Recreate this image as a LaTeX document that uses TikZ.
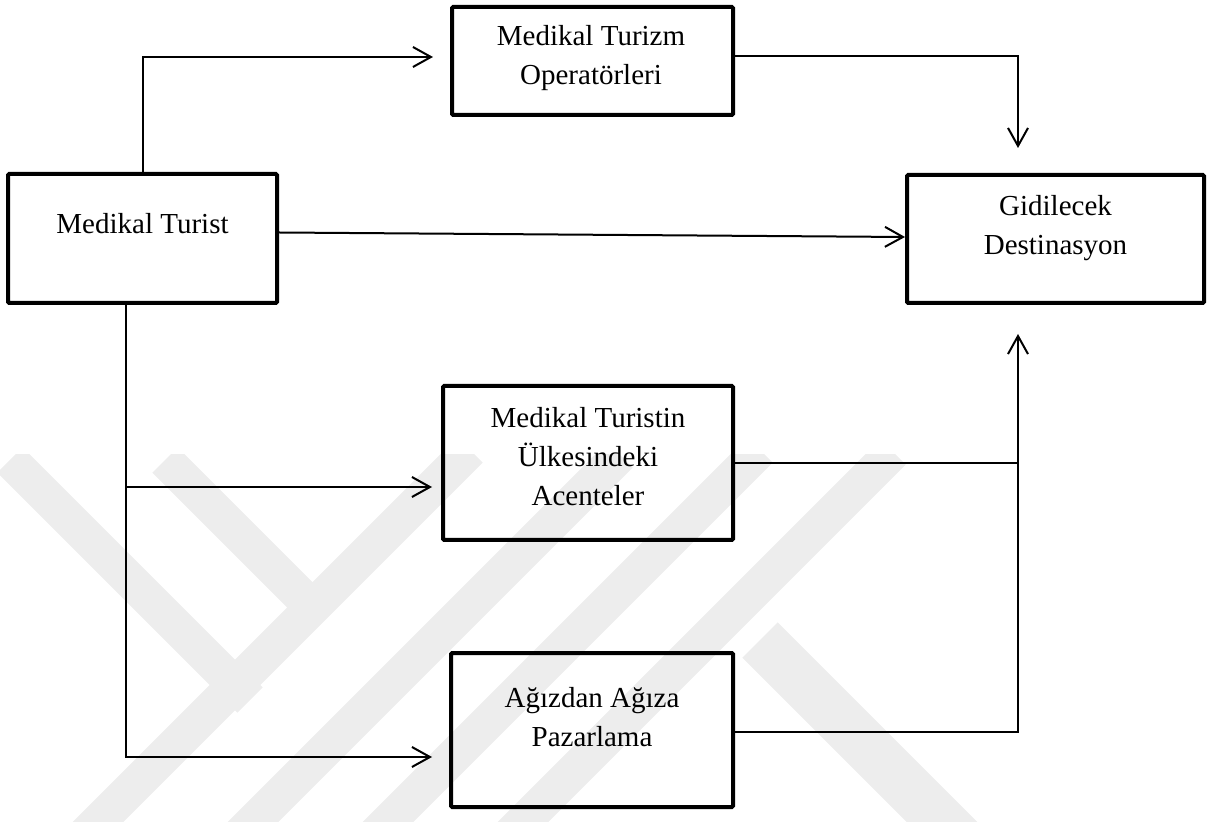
\documentclass[tikz,border=0pt]{standalone}
\usepackage{fontspec}
\setmainfont{Liberation Serif}
\usetikzlibrary{arrows.meta}
\tikzset{
  box/.style={draw, line width=2pt, inner sep=0pt, rounded corners=0.6pt},
  lbl/.style={inner sep=0pt, anchor=north, align=center, font=\fontsize{14.5}{19.5}\selectfont},
  conn/.style={line width=1pt},
  arr/.style={line width=1pt, -{Straight Barb[length=9pt,width=10pt,line width=1pt]}},
  wm/.style={line width=18pt, draw=black!7, line cap=butt},
}
\begin{document}
\begin{tikzpicture}[x=0.5pt,y=-0.5pt]
\useasboundingbox (0,0) rectangle (1214,822);
% faint watermark
\begin{scope}
\clip (0,455) rectangle (1214,822);
\draw[wm] (10,460) -- (250,700);
\draw[wm] (165,460) -- (320,615);
\draw[wm] (80,840) -- (470,450);
\draw[wm] (235,840) -- (620,455);
\draw[wm] (370,840) -- (760,450);
\draw[wm] (505,840) -- (893,452);
\draw[wm, line width=25pt] (760,640) -- (960,840);
\end{scope}
% boxes
\node[box, minimum width=134.5pt, minimum height=64.5pt] (tur) at (142.5,238.5) {};
\node[box, minimum width=140.5pt, minimum height=54pt] (op) at (592.5,61) {};
\node[box, minimum width=148.5pt, minimum height=64pt] (dest) at (1055.5,239) {};
\node[box, minimum width=145pt, minimum height=77pt] (ac) at (588,463) {};
\node[box, minimum width=141pt, minimum height=77pt] (paz) at (592,730) {};
% texts
\node[lbl] (turT) at (142.5,213) {Medikal Turist};
\node[lbl] (opT) at (591,25) {Medikal Turizm\\Operatörleri};
\node[lbl] (destT) at (1055.5,195) {Gidilecek\\Destinasyon};
\node[lbl] (acT) at (588,407) {Medikal Turistin\\Ülkesindeki\\Acenteler};
\node[lbl] (pazT) at (592,687) {Ağızdan Ağıza\\Pazarlama};
% helper coordinates
\coordinate (dt) at ([xshift=-18.75pt,yshift=12.5pt]dest.north);
\coordinate (db) at ([xshift=-18.75pt,yshift=-14.5pt]dest.south);
\coordinate (tb) at ([xshift=-8.25pt]tur.south);
\coordinate (aa) at ([xshift=-4.5pt,yshift=-12pt]ac.west);
\coordinate (pa) at ([xshift=-8.5pt,yshift=-13.5pt]paz.west);
\coordinate (oa) at ([xshift=-8.5pt,yshift=2pt]op.west);
% connectors
\draw[arr] (tur.north) |- (oa);
\draw[arr] ([yshift=3pt]tur.east) -- ([yshift=1pt]dest.west);
\draw[arr] ([yshift=2.5pt]op.east) -| (dt);
\draw[conn] (ac.east) -- (ac.east -| db);
\draw[arr] ([yshift=-1pt]paz.east) -| (db);
\draw[arr] (tb) |- (pa);
\draw[arr] (tb |- aa) -- (aa);
\end{tikzpicture}
\end{document}
